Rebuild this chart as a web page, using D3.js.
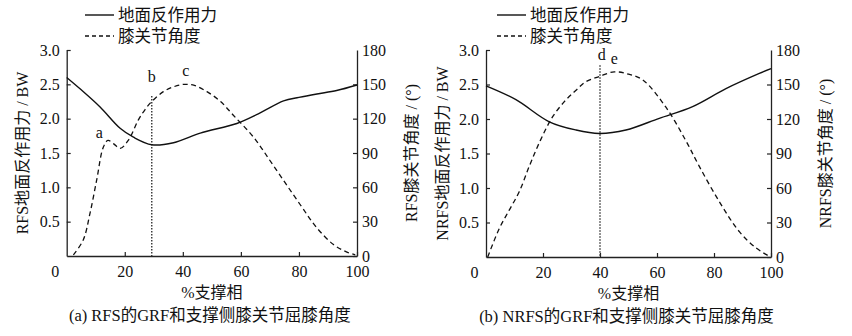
<!DOCTYPE html>
<html>
<head>
<meta charset="utf-8">
<script src="https://cdn.jsdelivr.net/npm/d3@7"></script>
<style>
body { margin: 0; background: #fff; }
text { font-family: "Liberation Serif", "Noto Sans CJK SC", serif; fill: #111; }
</style>
</head>
<body>
<svg id="chart" width="852" height="336"></svg>
<script>
// panel (a) RFS
var rfsGrfX = [0, 5, 11.5, 18.4, 23, 29.3, 36.8, 46, 58.6, 66, 74.7, 80, 86.2, 93, 100];
var rfsGrfY = [2.60, 2.42, 2.17, 1.86, 1.73, 1.62, 1.65, 1.79, 1.93, 2.07, 2.26, 2.31, 2.36, 2.41, 2.49];
var rfsKneeX = [2.3, 5.7, 8, 10.3, 12.6, 14.2, 16.2, 18.4, 21.2, 24.7, 27, 29.3, 33.3, 37, 40.5, 44, 48.3, 53, 57.4, 64.3, 71.2, 80.4, 86.2, 91.9, 96, 99.4];
var rfsKneeY = [1, 14, 37, 66, 95, 101, 98, 94, 101, 119, 128, 135, 143.6, 148, 150, 149, 143.6, 135, 123, 104, 79, 45, 24.5, 10, 4, 1];
// panel (b) NRFS
var nrfsGrfX = [0, 10.5, 22.2, 31.6, 39.8, 49.1, 60.8, 72.5, 84.2, 95.9, 100];
var nrfsGrfY = [2.48, 2.28, 1.96, 1.84, 1.79, 1.84, 2.01, 2.18, 2.44, 2.66, 2.73];
var nrfsKneeX = [0.6, 4.7, 8.2, 11.7, 15.2, 19, 23.4, 28, 31.6, 35, 39.8, 45, 50, 55, 63, 70, 74.8, 81.9, 88.9, 94.7, 99.4];
var nrfsKneeY = [0, 25, 41, 57, 79, 101, 122, 136.5, 145, 152.4, 157, 161, 159, 154, 130.7, 101.7, 79, 48, 22, 8, 0.6];

var grfTicks = [0.5, 1.0, 1.5, 2.0, 2.5, 3.0];
var kneeTicks = [0, 30, 60, 90, 120, 150, 180];
var xTicks = [0, 20, 40, 60, 80, 100];

var panels = [
  {x0: 66.7, x1: 357, y0: 256, y1: 50, grfX: rfsGrfX, grfY: rfsGrfY, kneeX: rfsKneeX, kneeY: rfsKneeY,
   mark: 29.3, markTop: 2.33, leftLabel: "RFS地面反作用力 / BW", rightLabel: "RFS膝关节角度 / (°)",
   caption: "(a)  RFS的GRF和支撑侧膝关节屈膝角度", legendX: 85,
   notes: [{t: "a", x: 11.2, v: 1.72}, {t: "b", x: 29.3, v: 2.54}, {t: "c", x: 41, v: 2.62}]},
  {x0: 486, x1: 771, y0: 257, y1: 50, grfX: nrfsGrfX, grfY: nrfsGrfY, kneeX: nrfsKneeX, kneeY: nrfsKneeY,
   mark: 40, markTop: 2.78, leftLabel: "NRFS地面反作用力 / BW", rightLabel: "NRFS膝关节角度 / (°)",
   caption: "(b)  NRFS的GRF和支撑侧膝关节屈膝角度", legendX: 497,
   notes: [{t: "d", x: 40.6, v: 2.86}, {t: "e", x: 45, v: 2.79}]}
];

var svg = d3.select("#chart");
var serif = "'Liberation Serif', 'Noto Sans CJK SC', serif";

panels.forEach(function(p) {
  var g = svg.append("g");
  var x = d3.scaleLinear().domain([0, 100]).range([p.x0, p.x1]);
  var y = d3.scaleLinear().domain([0, 3]).range([p.y0, p.y1]);
  var y2 = d3.scaleLinear().domain([0, 180]).range([p.y0, p.y1]);

  // axes, ticks inward
  var xAxis = g.append("g").attr("transform", `translate(0, ${p.y0})`)
    .call(d3.axisBottom(x).tickValues(xTicks).tickSizeInner(-4).tickSizeOuter(0).tickPadding(10));
  xAxis.selectAll(".tick").filter(d => d === 0).select("text").attr("dx", -12);
  xAxis.selectAll(".tick").filter(d => d === 0).select("line").remove();
  var yAxis = g.append("g").attr("transform", `translate(${p.x0}, 0)`)
    .call(d3.axisLeft(y).tickValues(grfTicks).tickFormat(d3.format(".1f")).tickSizeInner(-4).tickSizeOuter(0).tickPadding(7));
  var y2Axis = g.append("g").attr("transform", `translate(${p.x1}, 0)`)
    .call(d3.axisRight(y2).tickValues(kneeTicks).tickSizeInner(-4).tickSizeOuter(0).tickPadding(5));
  [xAxis, yAxis, y2Axis].forEach(a => a.attr("font-family", serif).attr("font-size", 16));
  g.selectAll(".domain").attr("stroke", "#222").attr("stroke-width", 1.3);
  g.selectAll(".tick line").attr("stroke", "#222").attr("stroke-width", 1.2);
  g.selectAll(".tick text").style("font-size", "16px").style("font-family", serif).attr("fill", "#111");
  y2Axis.selectAll(".tick").filter(d => d === 180).select("line").remove();

  // dotted marker line
  g.append("line")
    .attr("x1", x(p.mark)).attr("x2", x(p.mark))
    .attr("y1", y(p.markTop)).attr("y2", p.y0)
    .attr("stroke", "#333").attr("stroke-width", 1.4).attr("stroke-dasharray", "1.5,1.5");

  var grfLine = d3.line().x(d => x(d[0])).y(d => y(d[1])).curve(d3.curveCatmullRom);
  var kneeLine = d3.line().x(d => x(d[0])).y(d => y2(d[1])).curve(d3.curveCatmullRom);

  g.append("path").datum(d3.zip(p.grfX, p.grfY))
    .attr("d", grfLine).attr("fill", "none").attr("stroke", "#111").attr("stroke-width", 1.4);
  g.append("path").datum(d3.zip(p.kneeX, p.kneeY))
    .attr("d", kneeLine).attr("fill", "none").attr("stroke", "#111").attr("stroke-width", 1.3)
    .attr("stroke-dasharray", "5,3.5");

  p.notes.forEach(function(n) {
    g.append("text").attr("x", x(n.x)).attr("y", y(n.v)).attr("text-anchor", "middle")
      .style("font-size", "16px").text(n.t);
  });

  // axis titles
  var midY = (p.y0 + p.y1) / 2;
  g.append("text").attr("transform", `translate(${p.x0 - 44}, ${midY}) rotate(-90)`)
    .attr("text-anchor", "middle").attr("dy", "0.35em").style("font-size", "16px").text(p.leftLabel);
  g.append("text").attr("transform", `translate(${p.x1 + 54}, ${midY}) rotate(-90)`)
    .attr("text-anchor", "middle").attr("dy", "0.35em").style("font-size", "16px").text(p.rightLabel);
  var midX = (p.x0 + p.x1) / 2;
  g.append("text").attr("x", midX).attr("y", p.y0 + 42).attr("text-anchor", "middle")
    .style("font-size", "16px").text("%支撑相");
  g.append("text").attr("x", midX - 2).attr("y", p.y0 + 65).attr("text-anchor", "middle")
    .style("font-size", "16.5px").text(p.caption);

  // legend
  g.append("line").attr("x1", p.legendX).attr("x2", p.legendX + 29).attr("y1", 15).attr("y2", 15)
    .attr("stroke", "#111").attr("stroke-width", 1.4);
  g.append("text").attr("x", p.legendX + 33).attr("y", 21).style("font-size", "16.5px").text("地面反作用力");
  g.append("line").attr("x1", p.legendX).attr("x2", p.legendX + 29).attr("y1", 36).attr("y2", 36)
    .attr("stroke", "#111").attr("stroke-width", 1.3).attr("stroke-dasharray", "4,3");
  g.append("text").attr("x", p.legendX + 33).attr("y", 42).style("font-size", "16.5px").text("膝关节角度");
});
</script>
</body>
</html>
